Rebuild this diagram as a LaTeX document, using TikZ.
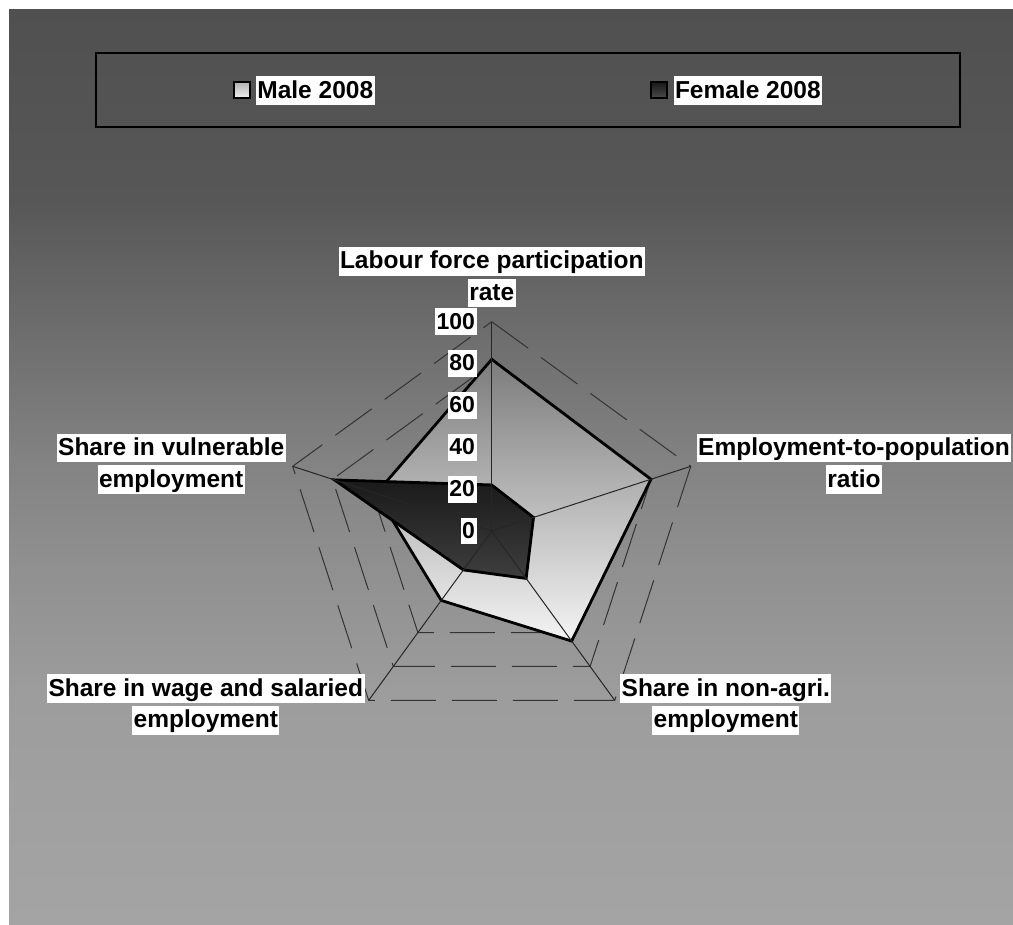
\documentclass[tikz,border=0pt]{standalone}
\usepackage{fontspec}
\setmainfont{Liberation Sans}
\usetikzlibrary{positioning}

\setlength{\fboxsep}{1.5pt}
\newcommand{\lbox}[1]{\colorbox{white}{\rule[-0.2em]{0pt}{1.04em}#1}}
\def\rs{2.093}

\pgfdeclareverticalshading{bgshade}{100bp}{rgb(0bp)=(.643,.643,.643); rgb(25bp)=(.643,.643,.643);
  rgb(37.3bp)=(.616,.616,.616); rgb(44.95bp)=(.561,.561,.561); rgb(50.14bp)=(.514,.514,.514);
  rgb(62.43bp)=(.369,.369,.369); rgb(64.62bp)=(.341,.341,.341); rgb(75bp)=(.314,.314,.314);
  rgb(100bp)=(.314,.314,.314)}

\definecolor{maletop}{RGB}{124,124,124}
\definecolor{malebot}{RGB}{244,244,244}
\definecolor{femtop}{RGB}{26,26,26}
\definecolor{fembot}{RGB}{62,62,62}

\tikzset{
  lbl/.style={font=\fontsize{24.5}{31.7}\selectfont\bfseries, inner sep=0pt, align=center, anchor=north},
  ticklbl/.style={font=\fontsize{23}{26}\selectfont\bfseries, inner sep=0pt, anchor=east},
  ringline/.style={draw=black!80, line width=1pt, dash pattern=on 45pt off 16pt},
  spoke/.style={draw=black!85, line width=1pt},
  maleseries/.style={draw=black, line width=2.8pt, line join=miter, top color=maletop, bottom color=malebot},
  femaleseries/.style={draw=black, line width=2.8pt, line join=miter, top color=femtop, bottom color=fembot},
  legendmark/.style={draw=black, line width=2pt, minimum size=16pt, inner sep=0pt}
}

\begin{document}
\begin{tikzpicture}[x=1pt,y=-1pt]

\fill[white] (0,0) rectangle (1013,925);
\useasboundingbox (0,0) rectangle (1013,925);
\shade[shading=bgshade] (9,10) rectangle (1013,925);

% legend
\draw[black, line width=1.2pt] (96,53) rectangle (960,127);
\node[legendmark, top color=black!30, bottom color=black!4] (mmark) at (241.7,90.5) {};
\node[lbl, anchor=west] (mtext) [right=5pt of mmark] {\lbox{Male 2008}};
\node[legendmark, top color=black!90, bottom color=black!70] (fmark) at (659.3,90.5) {};
\node[lbl, anchor=west] (ftext) [right=5pt of fmark] {\lbox{Female 2008}};

\begin{scope}[shift={(491.7,531)}]
\coordinate (c) at (0,0);
\foreach \a [count=\i] in {-90,-18,54,126,198}
  \coordinate (ax\i) at (\a:{100*\rs});

% grid rings
\foreach \v in {20,40,...,100}
  \draw[ringline] (-90:{\v*\rs}) \foreach \a in {-18,54,126,198} {-- (\a:{\v*\rs})} -- cycle;

% series
\path[maleseries] (-90:{82*\rs}) -- (-18:{80*\rs}) -- (54:{65*\rs}) -- (126:{41*\rs}) -- (198:{58*\rs}) -- cycle;
\path[femaleseries] (-90:{22*\rs}) -- (-18:{21*\rs}) -- (54:{28*\rs}) -- (126:{23*\rs}) -- (198:{79*\rs}) -- cycle;

\foreach \i in {1,...,5}
  \draw[spoke] (c) -- (ax\i);
\end{scope}

% value axis
\foreach \v in {0,20,...,100}
  \node[ticklbl] (t\v) at (476.7,{531-\v*\rs}) {\lbox{\v}};

% category labels
\node[lbl] (labour) at (491.8,246.7) {\lbox{Labour force participation}\\\lbox{rate}};
\node[lbl] (emppop) at (854,433.3) {\lbox{Employment-to-population}\\\lbox{ratio}};
\node[lbl] (nonagri) at (725.8,674) {\lbox{Share in non-agri.}\\\lbox{employment}};
\node[lbl] (wage) at (205.8,674) {\lbox{Share in wage and salaried}\\\lbox{employment}};
\node[lbl] (vuln) at (171.2,433.3) {\lbox{Share in vulnerable}\\\lbox{employment}};

\end{tikzpicture}
\end{document}
